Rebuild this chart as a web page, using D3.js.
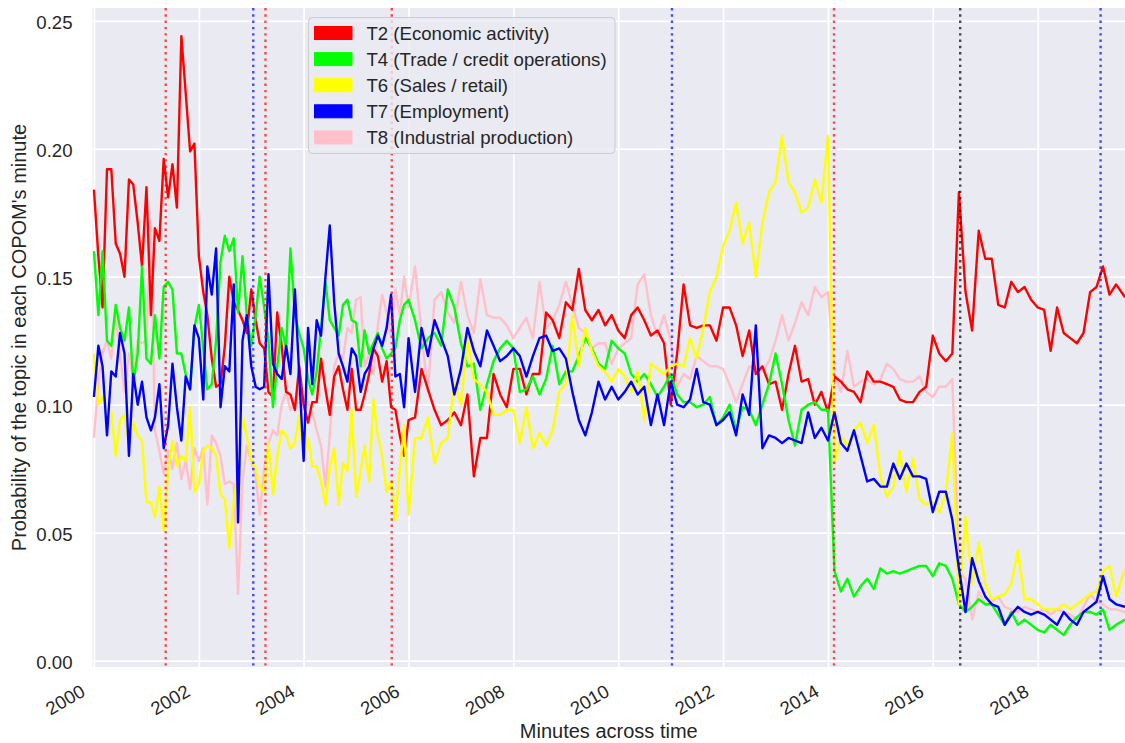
<!DOCTYPE html>
<html><head><meta charset="utf-8">
<script src="https://cdn.jsdelivr.net/npm/d3@7"></script>
<style>
html,body{margin:0;padding:0;background:#fff;}
svg{display:block;font-family:"Liberation Sans",Arial,sans-serif;}
</style></head>
<body><svg id="chart" width="1125" height="743"></svg>
<script>
// ---------------- data ----------------
const dates = [
"2000-01-01","2000-02-01","2000-03-01","2000-04-01","2000-05-01","2000-06-01","2000-07-01","2000-08-01","2000-09-01","2000-10-01","2000-11-01","2000-12-01",
"2001-01-01","2001-02-01","2001-03-01","2001-04-01","2001-05-01","2001-06-01","2001-07-01","2001-08-01","2001-09-01","2001-10-01","2001-11-01","2001-12-01",
"2002-01-01","2002-02-01","2002-03-01","2002-04-01","2002-05-01","2002-06-01","2002-07-01","2002-08-01","2002-09-01","2002-10-01","2002-11-01","2002-12-01",
"2003-01-01","2003-02-01","2003-03-01","2003-04-01","2003-05-01","2003-06-01","2003-07-01","2003-08-01","2003-09-01","2003-10-01","2003-11-01","2003-12-01",
"2004-01-01","2004-02-01","2004-03-01","2004-04-01","2004-05-01","2004-06-01","2004-07-01","2004-08-01","2004-09-01","2004-10-01","2004-11-01","2004-12-01",
"2005-01-01","2005-02-01","2005-03-01","2005-04-01","2005-05-01","2005-06-01","2005-07-01","2005-08-01","2005-09-01","2005-10-01","2005-11-01","2005-12-01",
"2006-01-01","2006-02-15","2006-04-01","2006-05-16","2006-07-01","2006-08-16","2006-10-01","2006-11-16",
"2007-01-01","2007-02-15","2007-04-01","2007-05-16","2007-07-01","2007-08-16","2007-10-01","2007-11-16",
"2008-01-01","2008-02-15","2008-04-01","2008-05-16","2008-07-01","2008-08-16","2008-10-01","2008-11-16",
"2009-01-01","2009-02-15","2009-04-01","2009-05-16","2009-07-01","2009-08-16","2009-10-01","2009-11-16",
"2010-01-01","2010-02-15","2010-04-01","2010-05-16","2010-07-01","2010-08-16","2010-10-01","2010-11-16",
"2011-01-01","2011-02-15","2011-04-01","2011-05-16","2011-07-01","2011-08-16","2011-10-01","2011-11-16",
"2012-01-01","2012-02-15","2012-04-01","2012-05-16","2012-07-01","2012-08-16","2012-10-01","2012-11-16",
"2013-01-01","2013-02-15","2013-04-01","2013-05-16","2013-07-01","2013-08-16","2013-10-01","2013-11-16",
"2014-01-01","2014-02-15","2014-04-01","2014-05-16","2014-07-01","2014-08-16","2014-10-01","2014-11-16",
"2015-01-01","2015-02-15","2015-04-01","2015-05-16","2015-07-01","2015-08-16","2015-10-01","2015-11-16",
"2016-01-01","2016-02-15","2016-04-01","2016-05-16","2016-07-01","2016-08-16","2016-10-01","2016-11-16",
"2017-01-01","2017-02-15","2017-04-01","2017-05-16","2017-07-01","2017-08-16","2017-10-01","2017-11-16",
"2018-01-01","2018-02-15","2018-04-01","2018-05-16","2018-07-01","2018-08-16","2018-10-01","2018-11-16",
"2019-01-01","2019-02-15","2019-04-01","2019-05-16","2019-07-01","2019-09-01"
];

const t2 = [
0.184,0.158,0.138,0.192,0.192,0.163,0.159,0.150,0.188,0.186,0.171,0.154,
0.185,0.135,0.169,0.164,0.196,0.181,0.194,0.177,0.244,0.222,0.199,0.202,
0.158,0.144,0.135,0.118,0.107,0.108,0.123,0.150,0.140,0.137,0.133,0.128,
0.145,0.133,0.124,0.122,0.105,0.103,0.136,0.123,0.105,0.104,0.098,0.115,
0.100,0.093,0.101,0.101,0.118,0.106,0.096,0.111,0.115,0.106,0.098,0.114,
0.098,0.098,0.104,0.112,0.122,0.119,0.109,0.117,0.099,0.098,0.088,0.080,
0.094,0.095,0.114,0.106,0.098,0.092,0.094,0.097,
0.092,0.104,0.072,0.087,0.087,0.112,0.104,0.099,
0.114,0.114,0.104,0.112,0.112,0.136,0.133,0.126,
0.140,0.137,0.153,0.137,0.133,0.137,0.131,0.135,
0.129,0.126,0.135,0.138,0.133,0.127,0.129,0.124,
0.100,0.120,0.147,0.131,0.130,0.131,0.131,0.125,
0.138,0.138,0.131,0.119,0.129,0.112,0.115,0.108,
0.109,0.098,0.112,0.123,0.109,0.110,0.100,0.105,
0.097,0.111,0.109,0.106,0.105,0.101,0.113,0.109,
0.109,0.108,0.107,0.102,0.101,0.101,0.105,0.107,
0.127,0.120,0.117,0.120,0.183,0.144,0.129,0.168,
0.157,0.157,0.139,0.138,0.148,0.144,0.146,0.141,
0.138,0.137,0.121,0.138,0.128,0.126,0.124,0.128,
0.144,0.146,0.154,0.143,0.147,0.142
];

const t4 = [
0.160,0.135,0.160,0.125,0.123,0.139,0.130,0.125,0.138,0.108,0.120,0.154,
0.118,0.116,0.135,0.118,0.146,0.148,0.145,0.120,0.120,0.112,0.106,0.130,
0.139,0.122,0.106,0.108,0.125,0.156,0.166,0.160,0.165,0.136,0.158,0.135,
0.123,0.135,0.150,0.138,0.125,0.099,0.115,0.130,0.122,0.161,0.135,0.128,
0.122,0.110,0.104,0.113,0.130,0.148,0.133,0.130,0.127,0.139,0.141,0.133,
0.132,0.115,0.129,0.120,0.124,0.128,0.122,0.118,0.120,0.122,0.133,0.139,
0.141,0.133,0.122,0.126,0.128,0.123,0.145,0.138,
0.124,0.115,0.116,0.098,0.108,0.117,0.122,0.125,
0.122,0.105,0.106,0.111,0.104,0.110,0.123,0.108,
0.113,0.113,0.119,0.126,0.122,0.116,0.114,0.125,
0.122,0.120,0.112,0.109,0.112,0.108,0.103,0.107,
0.112,0.104,0.101,0.101,0.099,0.100,0.103,0.092,
0.095,0.100,0.090,0.099,0.098,0.092,0.100,0.108,
0.120,0.108,0.094,0.084,0.098,0.100,0.101,0.098,
0.098,0.035,0.027,0.032,0.025,0.029,0.032,0.028,
0.036,0.034,0.035,0.034,0.035,0.036,0.037,0.037,
0.033,0.038,0.037,0.032,0.022,0.019,0.021,0.024,
0.022,0.022,0.018,0.014,0.019,0.014,0.016,0.014,
0.012,0.011,0.014,0.012,0.010,0.014,0.017,0.019,
0.019,0.018,0.020,0.012,0.014,0.016
];

const t6 = [
0.120,0.100,0.103,0.098,0.097,0.080,0.094,0.096,0.085,0.093,0.088,0.086,
0.062,0.062,0.056,0.068,0.051,0.075,0.086,0.076,0.080,0.078,0.099,0.066,
0.069,0.082,0.084,0.083,0.080,0.065,0.063,0.044,0.062,0.075,0.095,0.088,
0.078,0.075,0.068,0.066,0.085,0.065,0.080,0.090,0.088,0.083,0.085,0.096,
0.079,0.087,0.076,0.076,0.070,0.061,0.075,0.083,0.061,0.077,0.074,0.098,
0.064,0.074,0.084,0.070,0.102,0.088,0.080,0.066,0.070,0.055,0.075,0.092,
0.057,0.087,0.087,0.095,0.077,0.085,0.087,0.109,
0.100,0.126,0.110,0.108,0.105,0.096,0.096,0.098,
0.098,0.085,0.099,0.083,0.089,0.084,0.090,0.105,
0.108,0.135,0.115,0.130,0.121,0.115,0.113,0.109,
0.114,0.111,0.105,0.113,0.094,0.116,0.114,0.112,
0.115,0.116,0.115,0.126,0.118,0.130,0.144,0.150,
0.162,0.168,0.179,0.163,0.171,0.150,0.171,0.183,
0.187,0.205,0.187,0.183,0.175,0.177,0.188,0.179,
0.205,0.077,0.088,0.084,0.090,0.093,0.085,0.092,
0.072,0.064,0.068,0.082,0.066,0.079,0.063,0.061,
0.062,0.058,0.065,0.089,0.022,0.056,0.030,0.046,
0.030,0.024,0.025,0.026,0.030,0.043,0.024,0.024,
0.022,0.020,0.020,0.020,0.022,0.020,0.022,0.024,
0.026,0.027,0.035,0.037,0.025,0.036
];

const t7 = [
0.103,0.123,0.115,0.088,0.113,0.111,0.128,0.120,0.080,0.112,0.100,0.109,
0.095,0.090,0.095,0.108,0.083,0.092,0.116,0.099,0.086,0.111,0.106,0.131,
0.126,0.102,0.154,0.143,0.161,0.099,0.115,0.113,0.147,0.054,0.125,0.135,
0.115,0.107,0.106,0.107,0.151,0.116,0.112,0.110,0.123,0.112,0.145,0.112,
0.078,0.130,0.108,0.133,0.127,0.150,0.170,0.140,0.120,0.115,0.109,0.122,
0.119,0.105,0.112,0.115,0.122,0.127,0.123,0.130,0.143,0.111,0.112,0.099,
0.126,0.105,0.130,0.119,0.133,0.126,0.119,0.104,
0.114,0.130,0.121,0.115,0.129,0.123,0.117,0.119,
0.122,0.119,0.111,0.119,0.126,0.127,0.121,0.122,
0.118,0.105,0.094,0.088,0.097,0.109,0.102,0.107,
0.102,0.105,0.109,0.104,0.107,0.092,0.104,0.092,
0.109,0.100,0.099,0.102,0.114,0.101,0.100,0.092,
0.094,0.097,0.088,0.104,0.096,0.131,0.083,0.088,
0.087,0.085,0.087,0.086,0.085,0.097,0.087,0.091,
0.086,0.097,0.085,0.082,0.090,0.080,0.070,0.071,
0.068,0.068,0.077,0.071,0.077,0.072,0.072,0.071,
0.058,0.066,0.066,0.055,0.036,0.019,0.040,0.031,
0.025,0.022,0.021,0.014,0.018,0.021,0.019,0.018,
0.019,0.018,0.016,0.014,0.019,0.016,0.014,0.019,
0.021,0.023,0.033,0.024,0.022,0.021
];

const t8 = [
0.087,0.109,0.120,0.125,0.118,0.135,0.120,0.105,0.120,0.110,0.125,0.124,
0.125,0.172,0.090,0.082,0.073,0.082,0.075,0.085,0.071,0.078,0.067,0.083,
0.078,0.083,0.061,0.088,0.085,0.080,0.069,0.070,0.069,0.026,0.070,0.084,
0.078,0.072,0.057,0.075,0.085,0.090,0.088,0.100,0.105,0.098,0.100,0.106,
0.098,0.101,0.097,0.090,0.084,0.068,0.088,0.115,0.120,0.118,0.130,0.128,
0.141,0.142,0.115,0.120,0.112,0.131,0.143,0.136,0.126,0.145,0.135,0.150,
0.138,0.154,0.128,0.105,0.141,0.144,0.136,0.132,
0.148,0.135,0.128,0.149,0.135,0.134,0.134,0.131,
0.126,0.130,0.134,0.126,0.148,0.130,0.133,0.139,
0.148,0.139,0.130,0.128,0.122,0.124,0.124,0.116,
0.122,0.124,0.126,0.147,0.151,0.135,0.127,0.135,
0.125,0.107,0.112,0.110,0.119,0.117,0.115,0.115,
0.114,0.108,0.101,0.108,0.115,0.114,0.113,0.117,
0.125,0.135,0.125,0.132,0.140,0.135,0.146,0.142,
0.144,0.112,0.105,0.121,0.107,0.109,0.110,0.108,
0.110,0.116,0.114,0.110,0.109,0.109,0.111,0.105,
0.103,0.107,0.107,0.110,0.035,0.032,0.016,0.027,
0.022,0.023,0.025,0.021,0.020,0.019,0.021,0.020,
0.019,0.020,0.018,0.020,0.019,0.018,0.016,0.021,
0.026,0.023,0.022,0.020,0.020,0.019
];

const seriesLabels = ["T2 (Economic activity)","T4 (Trade / credit operations)","T6 (Sales / retail)","T7 (Employment)","T8 (Industrial production)"];
const seriesColors = ["#ff0000","#00ff00","#ffff00","#0000ff","#ffc0cb"];
const drawOrder = [4,0,1,2,3];

const eventDates  = ["2001-05-15","2003-01-15","2003-04-10","2005-09-06","2011-01-10","2014-02-12","2016-07-10","2019-03-15"];
const eventColors = ["#ff0000","#0000ff","#ff0000","#ff0000","#0000ff","#ff0000","#000000","#0000ff"];

const xTickYears = [2000,2002,2004,2006,2008,2010,2012,2014,2016,2018];
const yTickValues = [0.00,0.05,0.10,0.15,0.20,0.25];
const xStart = "1999-12-22";
const yDomain = [-0.0025,0.2550];

// ---------------- drawing ----------------
const svg = d3.select("#chart");
const L=92.5, R=1125, T=8, B=667;
const parse = d3.timeParse("%Y-%m-%d");
const xd = dates.map(parse);
const x = d3.scaleTime().domain([parse(xStart), xd[xd.length-1]]).range([L,R]);
const y = d3.scaleLinear().domain(yDomain).range([B,T]);
const textColor = "#262626";
const fontFam = '"Liberation Sans",Arial,sans-serif';

svg.append("rect").attr("x",L).attr("y",T).attr("width",R-L).attr("height",B-T).attr("fill","#eaeaf2");

const xTickDates = xTickYears.map(v=>new Date(v,0,1));
// grid
svg.append("g").attr("transform",`translate(0,${B})`)
  .call(d3.axisBottom(x).tickValues(xTickDates).tickSize(-(B-T)).tickFormat(""))
  .call(g=>g.select(".domain").remove())
  .call(g=>g.selectAll("line").attr("stroke","#fff").attr("stroke-width",1.7));
svg.append("g").attr("transform",`translate(${L},0)`)
  .call(d3.axisLeft(y).tickValues(yTickValues).tickSize(-(R-L)).tickFormat(""))
  .call(g=>g.select(".domain").remove())
  .call(g=>g.selectAll("line").attr("stroke","#fff").attr("stroke-width",1.7));

// tick labels
svg.append("g").attr("transform",`translate(${L},0)`)
  .call(d3.axisLeft(y).tickValues(yTickValues).tickSize(0).tickPadding(20).tickFormat(d3.format(".2f")))
  .call(g=>g.select(".domain").remove())
  .call(g=>g.selectAll("text").attr("fill",textColor).style("font-size","18.6px")
     .style("font-family",fontFam).attr("dy","0.42em"));

svg.append("g").attr("transform",`translate(0,${B})`)
  .call(d3.axisBottom(x).tickValues(xTickDates).tickSize(0).tickFormat(d3.timeFormat("%Y")))
  .call(g=>g.select(".domain").remove())
  .call(g=>g.selectAll("text").attr("fill",textColor).style("font-size","18.6px")
     .style("font-family",fontFam)
     .attr("y",null).attr("dy",null).style("text-anchor","end")
     .attr("transform","translate(-8,28) rotate(-30)"));

// clip
svg.append("clipPath").attr("id","plotclip").append("rect")
  .attr("x",L).attr("y",T).attr("width",R-L).attr("height",B-T);
const plot = svg.append("g").attr("clip-path","url(#plotclip)");

const allSeries = [t2,t4,t6,t7,t8];
const line = d3.line().x((d,i)=>x(xd[i])).y(d=>y(d));
drawOrder.forEach(si=>{
  plot.append("path").datum(allSeries[si])
    .attr("d",line).attr("fill","none").attr("stroke",seriesColors[si])
    .attr("stroke-width",2.4).attr("stroke-linejoin","round");
});

// event lines
eventDates.forEach((d,i)=>{
  const xx = x(parse(d));
  plot.append("line").attr("x1",xx).attr("x2",xx).attr("y1",T).attr("y2",B)
    .attr("stroke",eventColors[i]).attr("stroke-opacity",0.7)
    .attr("stroke-width",2.4).attr("stroke-dasharray","2.4,3.9");
});

// axis titles
svg.append("text").attr("x",(L+R)/2).attr("y",738).attr("text-anchor","middle")
  .attr("fill",textColor).style("font-size","20px").text("Minutes across time");
svg.append("text").attr("transform",`translate(26,${(T+B)/2}) rotate(-90)`).attr("text-anchor","middle")
  .attr("fill",textColor).style("font-size","20px").text("Probability of the topic in each COPOM's minute");

// legend
const lg = svg.append("g");
lg.append("rect").attr("x",308.5).attr("y",17.5).attr("width",306.5).attr("height",136).attr("rx",4)
  .attr("fill","#eaeaf2").attr("fill-opacity",0.8).attr("stroke","#cccccc").attr("stroke-width",1);
seriesLabels.forEach((lab,i)=>{
  const cy = 33 + i*26.1;
  lg.append("rect").attr("x",314.5).attr("y",cy-6.5).attr("width",37.5).attr("height",13)
    .attr("fill",seriesColors[i]).attr("stroke",seriesColors[i]).attr("stroke-width",1);
  lg.append("text").attr("x",366.5).attr("y",cy+6.5).attr("fill",textColor)
    .style("font-size","18.6px").text(lab);
});
</script>
</body></html>
